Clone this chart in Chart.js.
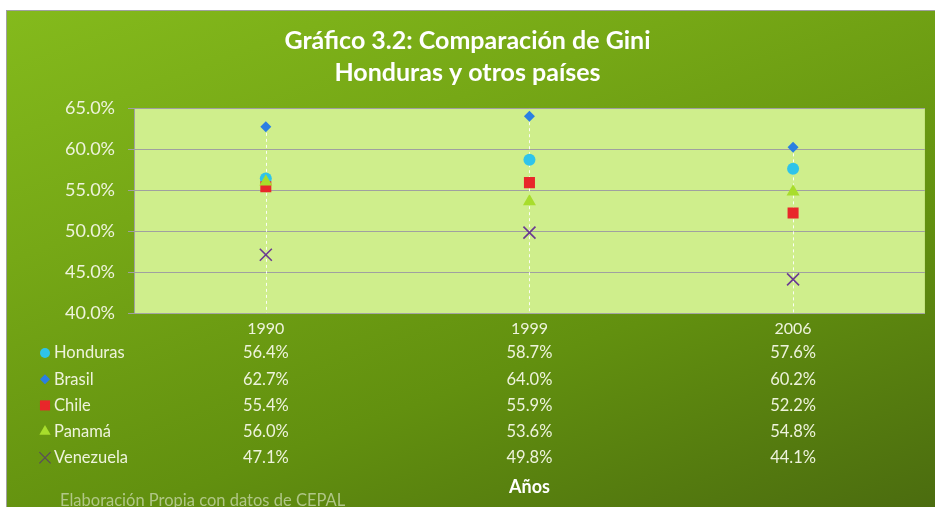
<!DOCTYPE html>
<html><head><meta charset="utf-8">
<script src="https://cdn.jsdelivr.net/npm/chart.js@4/dist/chart.umd.min.js"></script>
<style>
html,body{margin:0;padding:0;background:#fff;width:935px;height:507px;overflow:hidden;}
#wrap{position:absolute;left:6px;top:10px;width:929px;height:497px;
 border-left:1px solid #a0a0a0;border-top:1px solid #a0a0a0;box-sizing:border-box;
 background:linear-gradient(160deg,#84ba1c 0%,#76a816 30%,#62900f 65%,#4b6c0f 100%);}
canvas{display:block;}
</style></head>
<body><div id="wrap"><canvas id="c" width="928" height="496"></canvas></div>
<script>
const years = ['1990','1999','2006'];
const countries = ['Honduras','Brasil','Chile','Panamá','Venezuela'];
const honduras = [56.4, 58.7, 57.6];
const brasil = [62.7, 64.0, 60.2];
const chile = [55.4, 55.9, 52.2];
const panama = [56.0, 53.6, 54.8];
const venezuela = [47.1, 49.8, 44.1];
const yTicks = [40, 45, 50, 55, 60, 65];
const titleLines = ['Gráfico 3.2: Comparación de Gini', 'Honduras y otros países'];
const xTitle = 'Años';
const sourceNote = 'Elaboración Propia con datos de CEPAL';

const FONT = 'Lato, "Open Sans", sans-serif';
const TXT = '#eef3dc';
const seriesValues = [honduras, brasil, chile, panama, venezuela];
const styles = [
  {color:'#2ec4ea', shape:'circle', r:6, lr:5},
  {color:'#2a7fe2', shape:'rectRot', r:5.5, lr:5},
  {color:'#e8272a', shape:'rect', r:7.8, lr:7},
  {color:'#a8dd2c', shape:'triangle', r:7.5, lr:6.5},
  {color:'#6a3a92', shape:'crossRot', r:8.5, lr:8}
];

const datasets = countries.map((name, i) => ({
  label: name,
  data: seriesValues[i],
  showLine: false,
  order: 5 - i,
  pointStyle: styles[i].shape,
  pointRadius: styles[i].r,
  pointHoverRadius: styles[i].r,
  pointBackgroundColor: styles[i].color,
  pointBorderColor: styles[i].color,
  pointBorderWidth: styles[i].shape === 'crossRot' ? 1.6 : 0
}));

function drawMarker(ctx, shape, r, x, y) {
  ctx.save();
  ctx.beginPath();
  if (shape === 'circle') { ctx.arc(x, y, r, 0, Math.PI * 2); ctx.fill(); }
  else if (shape === 'rectRot') { ctx.moveTo(x - r, y); ctx.lineTo(x, y - r); ctx.lineTo(x + r, y); ctx.lineTo(x, y + r); ctx.closePath(); ctx.fill(); }
  else if (shape === 'rect') { const s = r * 0.72; ctx.rect(x - s, y - s, 2 * s, 2 * s); ctx.fill(); }
  else if (shape === 'triangle') { ctx.moveTo(x, y - r); ctx.lineTo(x + r * 0.87, y + r * 0.5); ctx.lineTo(x - r * 0.87, y + r * 0.5); ctx.closePath(); ctx.fill(); }
  else if (shape === 'crossRot') { const s = r * 0.7; ctx.lineWidth = 1.2; ctx.moveTo(x - s, y - s); ctx.lineTo(x + s, y + s); ctx.moveTo(x + s, y - s); ctx.lineTo(x - s, y + s); ctx.stroke(); }
  ctx.restore();
}

const plotFill = {
  id: 'plotFill',
  beforeDraw(chart) {
    const {ctx, chartArea: a} = chart;
    ctx.save();
    ctx.fillStyle = '#cfee8c';
    ctx.fillRect(a.left, a.top, a.right - a.left, a.bottom - a.top);
    ctx.restore();
  },
  beforeDatasetsDraw(chart) {
    const {ctx, chartArea: a, scales} = chart;
    ctx.save();
    ctx.strokeStyle = 'rgba(255,255,255,0.9)';
    ctx.lineWidth = 1;
    ctx.setLineDash([3, 3]);
    years.forEach((y, j) => {
      const maxV = Math.max(...seriesValues.map(s => s[j]));
      const x = Math.round(scales.x.getPixelForValue(j)) + 0.5;
      ctx.beginPath();
      ctx.moveTo(x, scales.y.getPixelForValue(maxV));
      ctx.lineTo(x, a.bottom);
      ctx.stroke();
    });
    ctx.restore();
  },
  afterDraw(chart) {
    const {ctx, scales} = chart;
    ctx.save();
    ctx.font = '16.5px ' + FONT;
    ctx.textBaseline = 'middle';
    const rowY0 = 342, rowH = 26.2;
    countries.forEach((name, i) => {
      const y = rowY0 + i * rowH;
      ctx.fillStyle = styles[i].color;
      ctx.strokeStyle = styles[i].shape === 'crossRot' ? '#5a4a60' : styles[i].color;
      drawMarker(ctx, styles[i].shape, styles[i].lr, 38, y);
      ctx.fillStyle = TXT;
      ctx.textAlign = 'left';
      ctx.fillText(name, 47, y);
      ctx.textAlign = 'center';
      seriesValues[i].forEach((v, j) => {
        ctx.fillText(v.toFixed(1) + '%', scales.x.getPixelForValue(j), y);
      });
    });
    ctx.font = '16.5px ' + FONT;
    ctx.fillStyle = 'rgba(196,212,165,0.8)';
    ctx.textAlign = 'left';
    ctx.fillText(sourceNote, 53, 490);
    ctx.restore();
  }
};

new Chart(document.getElementById('c'), {
  type: 'line',
  data: {labels: years, datasets},
  plugins: [plotFill],
  options: {
    responsive: false,
    animation: false,
    layout: {padding: {top: 0, right: 7, bottom: 0, left: 0}},
    plugins: {
      legend: {display: false},
      tooltip: {enabled: false},
      title: {
        display: true, text: titleLines, color: '#ffffff',
        font: {family: FONT, size: 25, weight: 'bold', lineHeight: 1.28},
        padding: {top: 14, bottom: 19}
      }
    },
    scales: {
      x: {
        offset: true,
        grid: {display: false, drawTicks: false},
        border: {display: true, color: '#a4a4a4', width: 1},
        ticks: {color: TXT, font: {family: FONT, size: 16}, padding: 6, maxRotation: 0},
        title: {display: true, text: xTitle, color: '#ffffff', font: {family: FONT, size: 18, weight: 'bold'}, padding: {top: 0, bottom: 9}},
        afterFit(s) { s.height = 194; }
      },
      y: {
        min: 40, max: 65,
        afterBuildTicks(s) { s.ticks = yTicks.map(v => ({value: v})); },
        grid: {color: '#a0a0a0', lineWidth: 1, tickLength: 6},
        border: {display: true, color: '#a0a0a0'},
        ticks: {color: TXT, font: {family: FONT, size: 18}, padding: 13,
          callback: v => v.toFixed(1) + '%'},
        afterFit(s) { s.width = 127; }
      }
    }
  }
});
</script></body></html>
